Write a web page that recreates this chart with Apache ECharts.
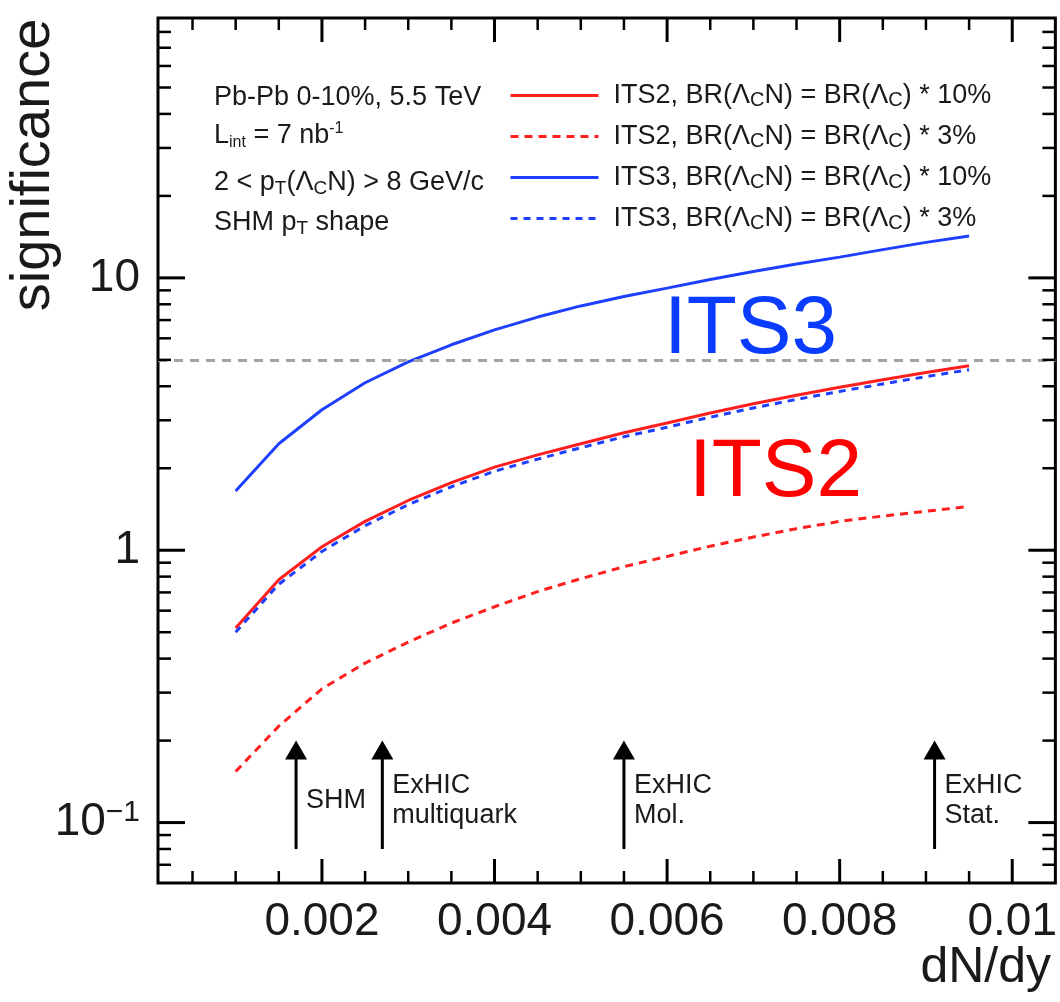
<!DOCTYPE html>
<html><head><meta charset="utf-8">
<script src="https://cdn.jsdelivr.net/npm/echarts@6/dist/echarts.min.js"></script>
<style>html,body{margin:0;padding:0;background:#fff}#c{width:1060px;height:1002px}</style>
</head><body><div id="c"></div>
<script>
// ---- data ----
const dndy = [0.001,0.0015,0.002,0.0025,0.003,0.0035,0.004,0.0045,0.005,0.0055,0.006,0.0065,0.007,0.0075,0.008,0.0085,0.009,0.0095];
const its2_10 = [0.518,0.779,1.03,1.276,1.523,1.77,2.02,2.24,2.46,2.70,2.93,3.19,3.45,3.71,3.97,4.23,4.49,4.76];
const its2_3  = [0.154,0.226,0.310,0.385,0.460,0.540,0.620,0.705,0.786,0.870,0.949,1.035,1.118,1.20,1.276,1.335,1.39,1.448];
const its3_10 = [1.65,2.46,3.28,4.12,4.92,5.68,6.44,7.18,7.89,8.55,9.17,9.87,10.55,11.25,11.92,12.7,13.5,14.25];
const its3_3  = [0.50,0.75,0.99,1.23,1.47,1.71,1.95,2.16,2.38,2.61,2.83,3.08,3.33,3.58,3.83,4.08,4.34,4.60];
const seriesNames = ['ITS2, BR(ΛCN) = BR(ΛC) * 10%','ITS2, BR(ΛCN) = BR(ΛC) * 3%','ITS3, BR(ΛCN) = BR(ΛC) * 10%','ITS3, BR(ΛCN) = BR(ΛC) * 3%'];
const xTickLabels = [0.002,0.004,0.006,0.008,0.01];
const xMinorTicks = [0.0005,0.001,0.0015,0.0025,0.003,0.0035,0.0045,0.005,0.0055,0.0065,0.007,0.0075,0.0085,0.009,0.0095];
const yMajorTicks = [0.1,1,10];
const yMinorTicks = [0.07,0.08,0.09,0.2,0.3,0.4,0.5,0.6,0.7,0.8,0.9,2,3,4,5,6,7,8,9,20,30,40,50,60,70,80];
const arrowX = [0.0017,0.0027,0.0055,0.0091];
const arrowLabels = ['SHM','ExHIC\nmultiquark','ExHIC\nMol.','ExHIC\nStat.'];
const arrowFrom = 0.08, arrowTo = 0.2;
const threshold = 5;
const xMin = 0.0001, xMax = 0.0105, yMin = 0.06, yMax = 90;

const FONT = '"Liberation Sans", Arial, Helvetica, sans-serif';
const RED = '#ff1f1f', BLUE = '#1f3fff', INK = '#1a1a1a';

const chart = echarts.init(document.getElementById('c'), null, {renderer:'canvas'});

function pairs(vals){ return dndy.map((x,i)=>[x, vals[i]]); }

function richName(name){
  return '{n|' + name.replace(/ΛC/g, 'Λ}{sub|C}{n|') + '}';
}

function xTickRender(len){
  return function(params, api){
    const cs = params.coordSys;
    const px = api.coord([api.value(0), yMin])[0];
    const b = cs.y + cs.height, t = cs.y;
    const st = {stroke:'#000', lineWidth: len > 15 ? 3 : 2.5};
    return {type:'group', children:[
      {type:'line', shape:{x1:px,y1:b,x2:px,y2:b-len}, style:st},
      {type:'line', shape:{x1:px,y1:t,x2:px,y2:t+len}, style:st}
    ]};
  };
}
function yTickRender(len){
  return function(params, api){
    const cs = params.coordSys;
    const py = api.coord([xMin, api.value(1)])[1];
    const l = cs.x, r = cs.x + cs.width;
    const st = {stroke:'#000', lineWidth: len > 15 ? 3 : 2.5};
    return {type:'group', children:[
      {type:'line', shape:{x1:l,y1:py,x2:l+len,y2:py}, style:st},
      {type:'line', shape:{x1:r,y1:py,x2:r-len,y2:py}, style:st}
    ]};
  };
}

const lineCommon = {type:'line', symbol:'none', showSymbol:false, smooth:false, silent:true};
const infoRich = {
  n:{fontSize:27, fontFamily:FONT, fill:INK, lineHeight:30},
  sub:{fontSize:19, fontFamily:FONT, fill:INK, lineHeight:14, verticalAlign:'bottom'},
  subs:{fontSize:16, fontFamily:FONT, fill:INK, lineHeight:12, verticalAlign:'bottom'},
  sup:{fontSize:16, fontFamily:FONT, fill:INK, lineHeight:12, verticalAlign:'top'}
};

const option = {
  animation:false,
  backgroundColor:'#fff',
  grid:{left:158, top:18, right:4, bottom:119, show:true, borderColor:'#000', borderWidth:3, backgroundColor:'transparent'},
  xAxis:{
    type:'value', min:xMin, max:xMax,
    axisLine:{show:false}, axisTick:{show:false}, splitLine:{show:false},
    axisLabel:{
      customValues: xTickLabels,
      fontSize:46, fontFamily:FONT, color:INK, margin:16, lineHeight:46,
      formatter: v => (Math.abs(v-0.01) < 1e-12 ? '0.01' : v.toFixed(3))
    }
  },
  yAxis:{
    type:'log', logBase:10, min:yMin, max:yMax,
    axisLine:{show:false}, axisTick:{show:false}, splitLine:{show:false}, minorTick:{show:false},
    axisLabel:{
      showMinLabel:false, showMaxLabel:false, margin:18,
      fontSize:46, fontFamily:FONT, color:INK,
      formatter: v => {
        if (Math.abs(v-0.1) < 1e-9) return '{b|10}{s|−1}';
        if (Math.abs(v-1) < 1e-9) return '{b|1}';
        if (Math.abs(v-10) < 1e-9) return '{b|10}';
        return '';
      },
      rich:{
        b:{fontSize:46, fontFamily:FONT, color:INK, lineHeight:50},
        s:{fontSize:30, fontFamily:FONT, color:INK, lineHeight:26, verticalAlign:'top'}
      }
    }
  },
  legend:{
    data: seriesNames, orient:'vertical', left:504, top:77,
    itemWidth:88, itemHeight:14, itemGap:12.5, selectedMode:false,
    itemStyle:{opacity:0, borderWidth:0},
    lineStyle:{width:3},
    formatter: richName,
    textStyle:{
      padding:[0,0,0,10], color:INK, fontSize:27, fontFamily:FONT,
      rich:{
        n:{fontSize:27, fontFamily:FONT, color:INK, lineHeight:30},
        sub:{fontSize:20, fontFamily:FONT, color:INK, lineHeight:14, verticalAlign:'bottom'}
      }
    }
  },
  graphic:[
    {type:'text', x:34, y:165, rotation:Math.PI/2,
     style:{text:'significance', fontSize:56, fontFamily:FONT, fill:INK, align:'center', verticalAlign:'middle'}},
    {type:'text', x:1051, y:968,
     style:{text:'dN/dy', fontSize:50, fontFamily:FONT, fill:INK, align:'right', verticalAlign:'middle'}},
    {type:'text', x:664, y:330,
     style:{text:'ITS3', fontSize:82, fontFamily:FONT, fill:'#0a3cff', align:'left', verticalAlign:'middle'}},
    {type:'text', x:689, y:473,
     style:{text:'ITS2', fontSize:82, fontFamily:FONT, fill:'#ff0000', align:'left', verticalAlign:'middle'}},
    {type:'text', x:214, y:98, style:{text:'{n|Pb-Pb 0-10%, 5.5 TeV}', align:'left', verticalAlign:'middle', rich:infoRich}},
    {type:'text', x:214, y:136, style:{text:'{n|L}{subs|int}{n| = 7 nb}{sup|-1}', align:'left', verticalAlign:'middle', rich:infoRich}},
    {type:'text', x:214, y:183, style:{text:'{n|2 < p}{sub|T}{n|(Λ}{sub|C}{n|N) > 8 GeV/c}', align:'left', verticalAlign:'middle', rich:infoRich}},
    {type:'text', x:214, y:223, style:{text:'{n|SHM p}{sub|T}{n| shape}', align:'left', verticalAlign:'middle', rich:infoRich}}
  ],
  series:[
    Object.assign({}, lineCommon, {name:seriesNames[0], data:pairs(its2_10), z:3,
      lineStyle:{color:RED, width:3}, itemStyle:{color:RED},
      markLine:{silent:true, symbol:'none', label:{show:false},
        lineStyle:{color:'#a4a4a4', type:[9,7], width:3}, data:[{yAxis:threshold}]}}),
    Object.assign({}, lineCommon, {name:seriesNames[1], data:pairs(its2_3), z:3,
      lineStyle:{color:RED, width:3, type:[8,6]}, itemStyle:{color:RED}}),
    Object.assign({}, lineCommon, {name:seriesNames[2], data:pairs(its3_10), z:3,
      lineStyle:{color:BLUE, width:3}, itemStyle:{color:BLUE}}),
    Object.assign({}, lineCommon, {name:seriesNames[3], data:pairs(its3_3), z:4,
      lineStyle:{color:BLUE, width:3, type:[7,6]}, itemStyle:{color:BLUE}}),
    {type:'custom', name:'xMajor', silent:true, clip:false, z:5, renderItem:xTickRender(24),
      data: xTickLabels.map(v=>[v, yMin])},
    {type:'custom', name:'xMinor', silent:true, clip:false, z:5, renderItem:xTickRender(12),
      data: xMinorTicks.map(v=>[v, yMin])},
    {type:'custom', name:'yMajor', silent:true, clip:false, z:5, renderItem:yTickRender(27),
      data: yMajorTicks.map(v=>[xMin, v])},
    {type:'custom', name:'yMinor', silent:true, clip:false, z:5, renderItem:yTickRender(13),
      data: yMinorTicks.map(v=>[xMin, v])},
    {type:'custom', name:'arrows', silent:true, clip:false, z:5,
      data: arrowX.map((x,i)=>[x, arrowFrom, arrowTo, i]),
      renderItem: function(params, api){
        const x = api.value(0);
        const pb = api.coord([x, api.value(1)]);
        const pt = api.coord([x, api.value(2)]);
        const idx = api.value(3);
        const hh = 19, hw = 22;
        return {type:'group', children:[
          {type:'line', shape:{x1:pb[0], y1:pb[1], x2:pt[0], y2:pt[1]+hh-2}, style:{stroke:'#000', lineWidth:3}},
          {type:'polygon', shape:{points:[[pt[0],pt[1]],[pt[0]-hw/2,pt[1]+hh],[pt[0]+hw/2,pt[1]+hh]]}, style:{fill:'#000'}},
          {type:'text', x:pt[0]+10, y:(pb[1]+pt[1])/2+6,
            style:{text:arrowLabels[idx], fontSize:27, fontFamily:FONT, fill:INK, align:'left', verticalAlign:'middle', lineHeight:30}}
        ]};
      }}
  ]
};
chart.setOption(option);
</script>
</body></html>
